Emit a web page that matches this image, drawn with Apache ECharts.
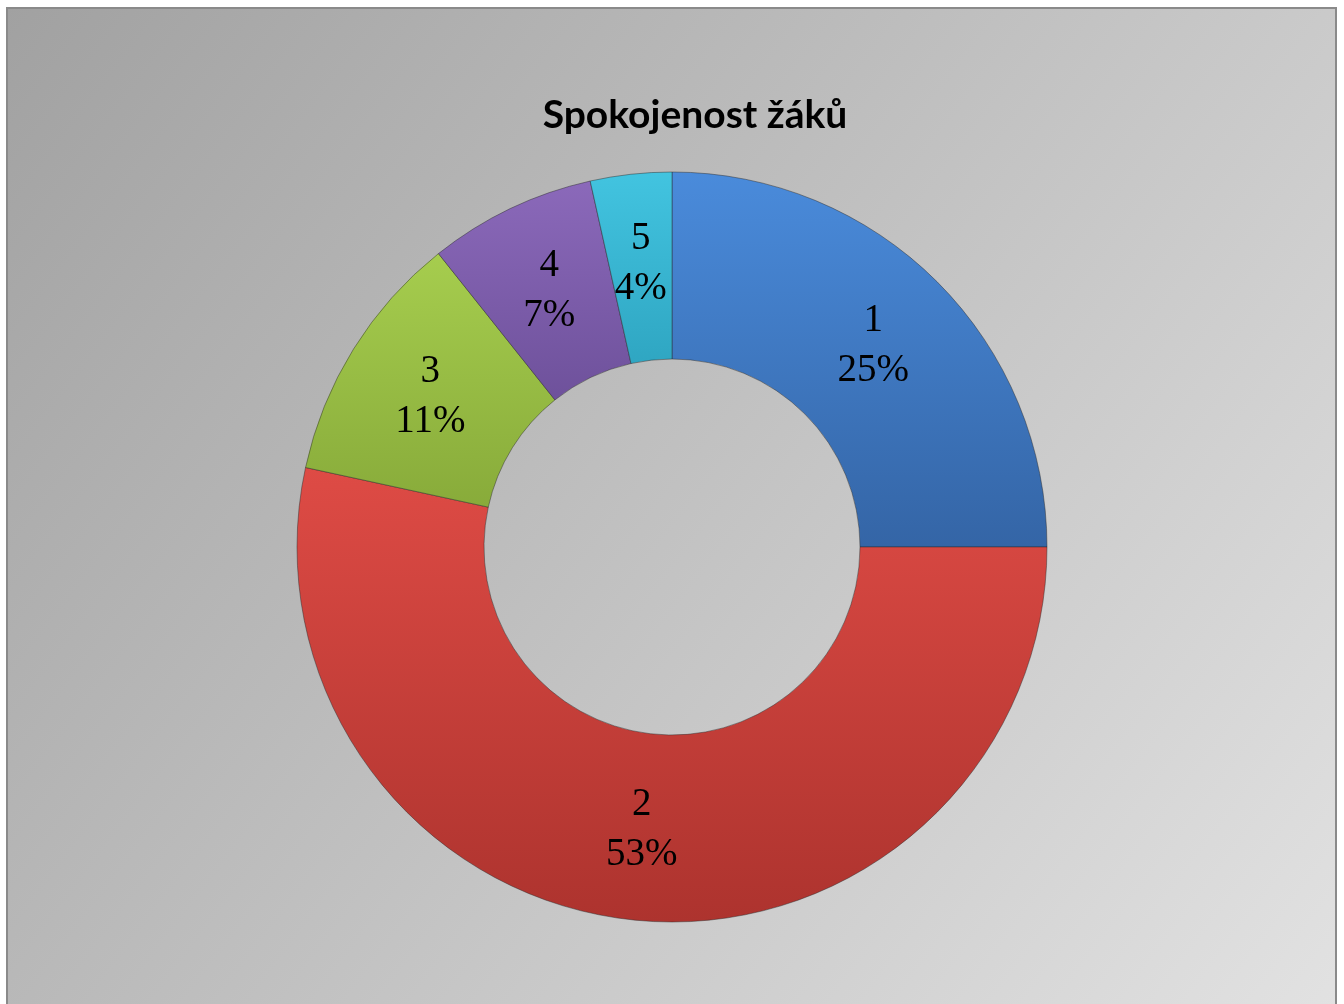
<!DOCTYPE html>
<html>
<head>
<meta charset="utf-8">
<script src="https://cdn.jsdelivr.net/npm/echarts@6/dist/echarts.min.js"></script>
<style>html,body{margin:0;padding:0;background:#fff;}#c{width:1344px;height:1004px;}</style>
</head>
<body>
<div id="c"></div>
<script>
const titleText = 'Spokojenost žáků';
const categories = ['1', '2', '3', '4', '5'];
const values = [25, 53.4, 10.9, 7.2, 3.5];
const colorsTop = ['#4a8bdb', '#de4b45', '#a6cd4e', '#8b69ba', '#42c4e0'];
const colorsBottom = ['#3465a6', '#ad332e', '#88ab3a', '#6e519b', '#2fa6c2'];

const chart = echarts.init(document.getElementById('c'));
const data = categories.map((c, i) => ({
  name: c,
  value: values[i],
  itemStyle: {
    color: new echarts.graphic.LinearGradient(0, 0, 0, 1, [
      {offset: 0, color: colorsTop[i]},
      {offset: 1, color: colorsBottom[i]}
    ])
  }
}));
chart.setOption({
  animation: false,
  graphic: [{
    type: 'rect',
    z: -10,
    shape: {x: 7, y: 8, width: 1329, height: 1010},
    style: {
      fill: new echarts.graphic.LinearGradient(0, 0, 1, 1, [
        {offset: 0, color: '#a1a1a1'},
        {offset: 1, color: '#e2e2e2'}
      ]),
      stroke: '#8a8a8a',
      lineWidth: 2
    }
  }],
  title: {
    text: titleText,
    left: 690,
    top: 91,
    textAlign: 'center',
    textStyle: {fontFamily: 'Lato', fontWeight: 'bold', fontSize: 39, color: '#000'}
  },
  series: [{
    type: 'pie',
    center: [672, 547],
    radius: [188, 375],
    startAngle: 90,
    clockwise: true,
    itemStyle: {borderColor: 'rgba(40,40,40,0.45)', borderWidth: 1},
    label: {
      show: true,
      position: 'inside',
      formatter: p => p.name + '\n' + Math.round(p.value) + '%',
      fontFamily: 'Liberation Serif',
      fontSize: 39,
      lineHeight: 50,
      color: '#000'
    },
    labelLine: {show: false},
    emphasis: {disabled: true},
    data: data
  }]
});
</script>
</body>
</html>
